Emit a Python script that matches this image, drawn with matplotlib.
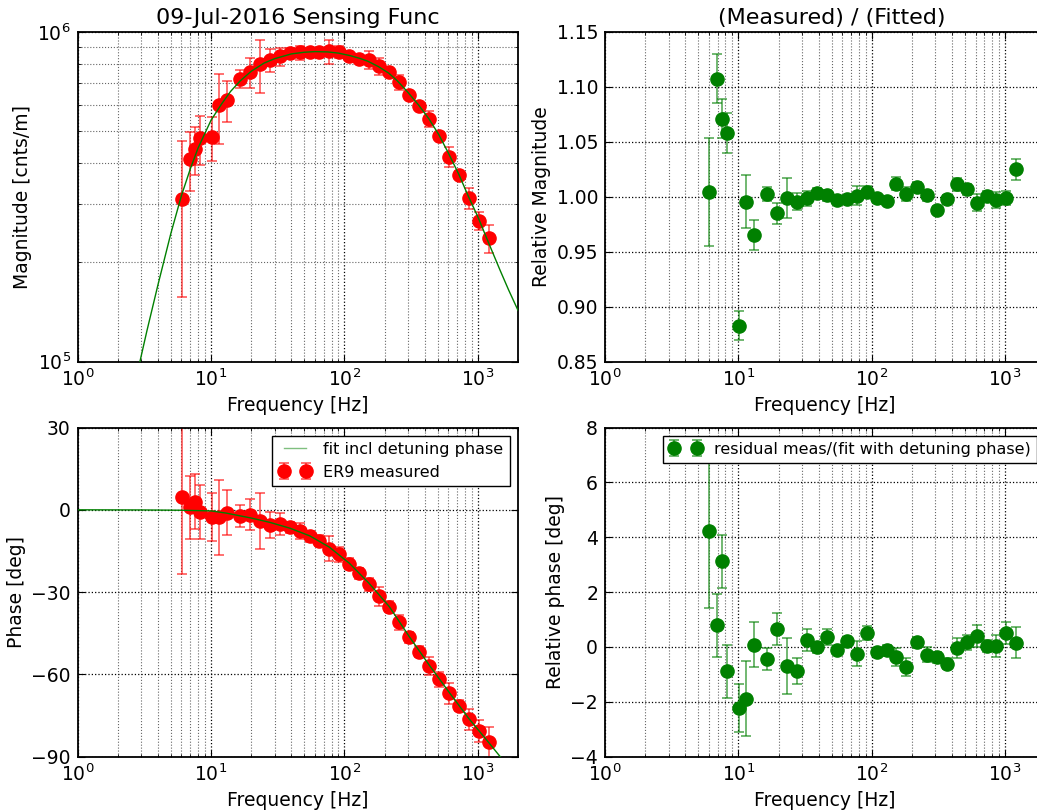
import matplotlib
matplotlib.use('Agg')
import matplotlib.pyplot as plt
from matplotlib.ticker import LogLocator, NullFormatter, FormatStrFormatter, MultipleLocator

# measured points (Hz)
freq = [6.02, 6.95, 7.57, 8.26, 10.1, 11.5, 13.1, 16.5, 19.6, 23.3, 27.7, 32.9, 39.1,
        46.4, 55.2, 64.8, 76.9, 91.4, 109, 129, 153, 182, 217, 258, 306, 364, 432,
        514, 611, 726, 853, 1014, 1205]

# magnitude [cnts/m], in units of 1e5
mag = [3.12, 4.13, 4.41, 4.76, 4.79, 6.01, 6.22, 7.21, 7.55, 7.99, 8.20, 8.43, 8.63,
       8.67, 8.69, 8.69, 8.73, 8.69, 8.47, 8.28, 8.24, 7.86, 7.54, 7.04, 6.44, 5.96,
       5.46, 4.83, 4.18, 3.69, 3.14, 2.67, 2.37]
mag_err = [1.55, 0.84, 0.74, 0.80, 0.72, 1.44, 0.87, 0.47, 0.77, 1.44, 0.65, 0.54, 0.30,
           0.42, 0.20, 0.15, 0.74, 0.38, 0.15, 0.15, 0.50, 0.46, 0.15, 0.37, 0.15, 0.12,
           0.31, 0.12, 0.30, 0.10, 0.23, 0.17, 0.23]

phase = [4.5, 1.0, 3.0, -0.9, -2.7, -2.8, -1.0, -2.4, -1.8, -4.0, -5.5, -5.1, -6.3,
         -7.7, -9.7, -11.3, -14.2, -16.2, -19.7, -23.1, -27.1, -31.6, -35.3, -41.0,
         -46.5, -51.7, -56.8, -61.8, -66.9, -71.5, -76.3, -80.6, -84.8]
phase_err = [28, 11.5, 10, 9.8, 8.7, 13.8, 8.1, 4.0, 5.6, 10.3, 4.7, 4.0, 2.0, 2.9, 2.0,
             2.0, 4.5, 2.7, 2.0, 2.0, 2.4, 3.5, 2.0, 2.8, 2.0, 2.0, 3.3, 2.7, 3.8, 2.0,
             3.8, 4.0, 5.5]

rel_mag = [1.0045, 1.1076, 1.0712, 1.0582, 0.8827, 0.9955, 0.9652, 1.0024, 0.9848,
           0.999, 0.9955, 0.9985, 1.003, 1.0015, 0.997, 0.998, 1.001, 1.0045, 0.9985,
           0.996, 1.012, 1.0024, 1.009, 1.0015, 0.9879, 0.9976, 1.0112, 1.0067, 0.9945,
           1.001, 0.997, 0.999, 1.0252]
rel_mag_err = [0.049, 0.022, 0.0175, 0.018, 0.013, 0.024, 0.0137, 0.0066, 0.0095, 0.018,
               0.008, 0.0065, 0.005, 0.005, 0.003, 0.003, 0.0085, 0.005, 0.003, 0.003,
               0.006, 0.0066, 0.004, 0.005, 0.004, 0.004, 0.006, 0.005, 0.0077, 0.004,
               0.007, 0.0065, 0.0095]

rel_phase = [4.21, 0.79, 3.12, -0.88, -2.22, -1.88, 0.08, -0.44, 0.65, -0.7, -0.88, 0.24,
             -0.01, 0.36, -0.1, 0.23, -0.25, 0.51, -0.19, -0.12, -0.36, -0.73, 0.17,
             -0.28, -0.38, -0.62, -0.04, 0.17, 0.41, 0.05, 0.05, 0.51, 0.15]
rel_phase_err = [2.8, 1.15, 0.98, 0.97, 0.87, 1.37, 0.82, 0.4, 0.59, 1.03, 0.46, 0.4, 0.2,
                 0.29, 0.15, 0.15, 0.46, 0.27, 0.15, 0.2, 0.33, 0.33, 0.2, 0.28, 0.2, 0.2,
                 0.35, 0.27, 0.4, 0.22, 0.4, 0.39, 0.57]

# fitted model
fit_f = [2.93, 3.3, 4, 5, 6, 7, 8, 10, 12, 14, 16.5, 20, 25, 30, 40, 50, 60, 75, 90,
         110, 130, 150, 180, 215, 250, 300, 360, 430, 510, 600, 720, 850, 1000, 1200,
         1470, 1700, 2000]
fit_mag = [1.00, 1.236, 1.71, 2.45, 3.19, 3.85, 4.45, 5.40, 6.05, 6.60, 7.10, 7.60,
           8.05, 8.30, 8.58, 8.68, 8.72, 8.70, 8.63, 8.48, 8.32, 8.15, 7.85, 7.50, 7.10,
           6.55, 6.00, 5.45, 4.88, 4.30, 3.70, 3.17, 2.75, 2.30, 1.89, 1.65, 1.43]
fit_pf = [1, 3, 6, 10, 13, 16.5, 20, 27.7, 39, 55, 77, 109, 153, 217, 306, 432, 611,
          853, 1205, 1472, 2000]
fit_phase = [0.0, -0.05, -0.15, -0.4, -1.2, -2.2, -3.0, -4.6, -6.7, -9.5, -13.6, -19.5,
             -26.8, -35.3, -46.2, -56.6, -66.6, -76.0, -84.8, -90.0, -98.0]

plt.rcParams.update({
    'font.family': 'DejaVu Sans',
    'font.size': 13.5,
    'axes.linewidth': 1.3,
    'xtick.direction': 'in', 'ytick.direction': 'in',
    'xtick.top': True, 'ytick.right': True,
    'xtick.major.size': 5, 'ytick.major.size': 5,
    'xtick.minor.size': 2.5, 'ytick.minor.size': 2.5,
    'xtick.major.pad': 5, 'ytick.major.pad': 5,
    'legend.fancybox': False, 'legend.edgecolor': 'k', 'legend.framealpha': 1,
})

fig = plt.figure(figsize=(10.37, 8.10), dpi=100)
ax1 = fig.add_axes([0.0749, 0.5537, 0.4246, 0.4068])
ax2 = fig.add_axes([0.5834, 0.5537, 0.4246, 0.4068])
ax3 = fig.add_axes([0.0749, 0.0658, 0.4246, 0.4064])
ax4 = fig.add_axes([0.5834, 0.0658, 0.4246, 0.4064])

mag_abs = [m * 1e5 for m in mag]
mag_err_abs = [e * 1e5 for e in mag_err]
fit_mag_abs = [m * 1e5 for m in fit_mag]

red_e = (1, 0, 0, 0.6)
grn_e = (0, 0.5, 0, 0.6)
ekw = dict(fmt='o', ms=9.5, capsize=3.5, elinewidth=1.3, capthick=1.3)

ax1.errorbar(freq, mag_abs, yerr=mag_err_abs, color='r', mec='r', ecolor=red_e, **ekw)
ax1.loglog(fit_f, fit_mag_abs, color='g', lw=1, zorder=4)
ax1.set_ylim(1e5, 1e6)
ax1.yaxis.set_minor_formatter(NullFormatter())
ax1.set_ylabel('Magnitude [cnts/m]')
ax1.set_title('09-Jul-2016 Sensing Func', fontsize=16)

ax2.errorbar(freq, rel_mag, yerr=rel_mag_err, color='g', mec='g', ecolor=grn_e, **ekw)
ax2.set_xscale('log')
ax2.set_ylim(0.85, 1.15)
ax2.yaxis.set_major_locator(MultipleLocator(0.05))
ax2.yaxis.set_major_formatter(FormatStrFormatter('%.2f'))
ax2.set_ylabel('Relative Magnitude')
ax2.set_title('(Measured) / (Fitted)', fontsize=16, x=0.515)

ax3.semilogx(fit_pf, fit_phase, color='g', lw=1, zorder=4, label='fit incl detuning phase')
ax3.errorbar(freq, phase, yerr=phase_err, color='r', mec='r', ecolor=red_e,
             label='ER9 measured', **ekw)
ax3.set_ylim(-90, 30)
ax3.yaxis.set_major_locator(MultipleLocator(30))
ax3.set_ylabel('Phase [deg]')
leg = ax3.legend(loc='upper right', numpoints=2, fontsize=11.5)
leg.get_lines()[0].set_alpha(0.5)

ax4.errorbar(freq, rel_phase, yerr=rel_phase_err, color='g', mec='g', ecolor=grn_e,
             label='residual meas/(fit with detuning phase)', **ekw)
ax4.set_xscale('log')
ax4.set_ylim(-4, 8)
ax4.yaxis.set_major_locator(MultipleLocator(2))
ax4.set_ylabel('Relative phase [deg]')
ax4.legend(loc='upper right', numpoints=2, fontsize=11.5)

for ax in (ax1, ax2, ax3, ax4):
    ax.set_xlim(1, 2000)
    ax.xaxis.set_major_locator(LogLocator(base=10, numticks=10))
    ax.xaxis.set_minor_locator(LogLocator(base=10, subs=range(2, 10), numticks=20))
    ax.xaxis.set_minor_formatter(NullFormatter())
    ax.set_xlabel('Frequency [Hz]')
    ax.grid(True, which='major', ls=':', color='k', lw=0.9)
    ax.grid(True, which='minor', ls=':', color='0.4', lw=0.8)

fig.savefig('out.png', dpi=100)
